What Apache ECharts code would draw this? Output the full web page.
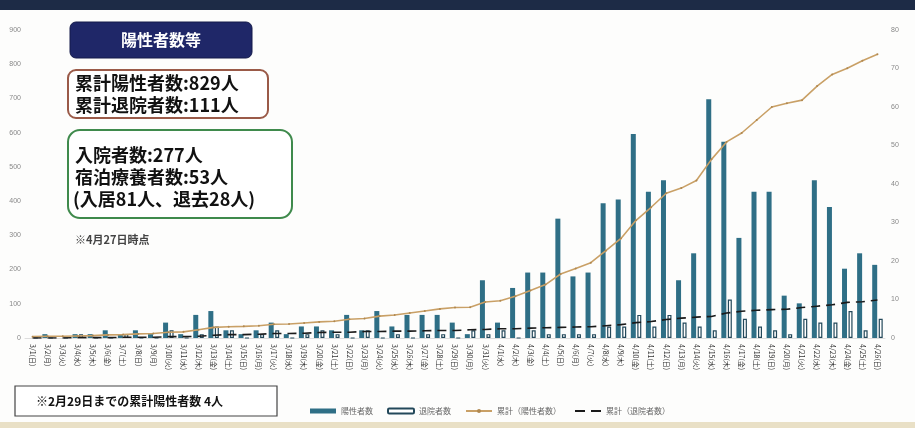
<!DOCTYPE html>
<html><head><meta charset="utf-8">
<script src="https://cdn.jsdelivr.net/npm/echarts@6/dist/echarts.min.js"></script>
<style>html,body{margin:0;padding:0;background:#fff}#c{width:915px;height:428px}</style>
</head><body><div id="c"></div>
<script>
const categories = ["3/1(日)","3/2(月)","3/3(火)","3/4(水)","3/5(木)","3/6(金)","3/7(土)","3/8(日)","3/9(月)","3/10(火)","3/11(水)","3/12(木)","3/13(金)","3/14(土)","3/15(日)","3/16(月)","3/17(火)","3/18(水)","3/19(木)","3/20(金)","3/21(土)","3/22(日)","3/23(月)","3/24(火)","3/25(水)","3/26(木)","3/27(金)","3/28(土)","3/29(日)","3/30(月)","3/31(火)","4/1(水)","4/2(木)","4/3(金)","4/4(土)","4/5(日)","4/6(月)","4/7(火)","4/8(水)","4/9(木)","4/10(金)","4/11(土)","4/12(日)","4/13(月)","4/14(火)","4/15(水)","4/16(木)","4/17(金)","4/18(土)","4/19(日)","4/20(月)","4/21(火)","4/22(水)","4/23(木)","4/24(金)","4/25(土)","4/26(日)"];
const positives = [0,1,0,1,1,2,1,2,1,4,1,6,7,2,1,2,4,1,3,3,2,6,2,7,3,6,6,6,4,1,15,4,13,17,17,31,16,17,35,36,53,38,41,15,22,62,51,26,38,38,11,9,41,34,18,22,19];
const discharged = [0,0,0,1,0,0,1,0,0,2,0,1,3,2,0,1,2,0,1,2,1,0,2,0,1,0,1,1,0,2,1,2,0,2,1,1,1,1,3,3,6,3,6,4,3,2,10,5,3,2,1,5,4,4,7,2,5];
const cumPositives = [4,5,5,6,7,9,10,12,13,17,18,24,31,33,34,36,40,41,44,47,49,55,57,64,67,73,79,85,89,90,105,109,122,139,156,187,203,220,255,291,344,382,423,438,460,522,573,599,637,675,686,695,736,770,788,810,829];
const cumDischarged = [0,0,0,1,1,1,2,2,2,4,4,5,8,10,10,11,13,13,14,16,17,17,19,19,20,20,21,22,22,24,25,27,27,29,30,31,32,33,36,39,45,48,54,58,61,63,73,78,81,83,84,89,93,97,104,106,111];
const seriesNames = ["陽性者数","退院者数","累計（陽性者数）","累計（退院者数）"];

const JP = '"Noto Sans CJK JP", sans-serif';
const chart = echarts.init(document.getElementById('c'));
chart.setOption({
  backgroundColor:'#fdfdfc',
  animation:false,
  grid:{left:25,right:30,top:30,bottom:90},
  legend:{
    left:305, bottom:8, itemWidth:26, itemHeight:5, itemGap:14,
    textStyle:{fontSize:8,color:'#666',fontFamily:JP},
    data:[
      {name:seriesNames[0], icon:'rect'},
      {name:seriesNames[1], icon:'roundRect'},
      {name:seriesNames[2]},
      {name:seriesNames[3], icon:'path://M0,0 L10,0 L10,2 L0,2 Z M16,0 L26,0 L26,2 L16,2 Z'}
    ]
  },
  xAxis:{
    type:'category', data:categories, boundaryGap:true,
    axisLine:{show:true,lineStyle:{color:'#ddd'}},
    axisTick:{show:false},
    axisLabel:{interval:0, rotate:-90, fontSize:7, color:'#333', fontFamily:JP, margin:6}
  },
  yAxis:[
    {type:'value', min:0, max:900, interval:100, position:'left',
     splitLine:{show:false}, axisLine:{show:false}, axisTick:{show:false},
     axisLabel:{fontSize:7,color:'#888',margin:4}},
    {type:'value', min:0, max:80, interval:10, position:'right',
     splitLine:{show:false}, axisLine:{show:false}, axisTick:{show:false},
     axisLabel:{fontSize:7,color:'#888',margin:6}}
  ],
  series:[
    {name:seriesNames[0], type:'bar', yAxisIndex:1, data:positives, barWidth:5, barGap:'30%',
     itemStyle:{color:'#2f6f86'}},
    {name:seriesNames[1], type:'bar', yAxisIndex:1, data:discharged, barWidth:4,
     itemStyle:{color:'#ffffff', borderColor:'#23485a', borderWidth:1.2}},
    {name:seriesNames[2], type:'line', yAxisIndex:0, data:cumPositives,
     symbol:'circle', symbolSize:2, showSymbol:true,
     lineStyle:{color:'#c9a066', width:1.6}, itemStyle:{color:'#b08850'}},
    {name:seriesNames[3], type:'line', yAxisIndex:0, data:cumDischarged,
     symbol:'none',
     lineStyle:{color:'#1a1a1a', width:1.6, type:[9,6]}, itemStyle:{color:'#1a1a1a'}}
  ],
  graphic:[
    {type:'rect', shape:{x:0,y:0,width:915,height:10}, style:{fill:'#1d2b46'}},
    {type:'rect', shape:{x:0,y:422,width:915,height:6}, style:{fill:'#e9e0c6'}},
    {type:'rect', shape:{x:70,y:22,width:182,height:36,r:6}, style:{fill:'#1f2768', stroke:'#141a4a', lineWidth:1}},
    {type:'text', x:161, y:40, style:{text:'陽性者数等', fill:'#fff', font:'bold 16px '+JP, textAlign:'center', textVerticalAlign:'middle'}},
    {type:'rect', shape:{x:68,y:70,width:200,height:48,r:8}, style:{fill:'#fff', stroke:'#9a5a48', lineWidth:2}},
    {type:'text', x:75, y:83, style:{text:'累計陽性者数:829人', fill:'#111', font:'bold 18px '+JP, textVerticalAlign:'middle'}},
    {type:'text', x:75, y:105, style:{text:'累計退院者数:111人', fill:'#111', font:'bold 18px '+JP, textVerticalAlign:'middle'}},
    {type:'rect', shape:{x:68,y:130,width:224,height:88,r:12}, style:{fill:'#fff', stroke:'#3f8a4c', lineWidth:2}},
    {type:'text', x:75, y:155, style:{text:'入院者数:277人', fill:'#111', font:'bold 18px '+JP, textVerticalAlign:'middle'}},
    {type:'text', x:75, y:177, style:{text:'宿泊療養者数:53人', fill:'#111', font:'bold 18px '+JP, textVerticalAlign:'middle'}},
    {type:'text', x:73, y:199, style:{text:'(入居81人、退去28人)', fill:'#111', font:'bold 18px '+JP, textVerticalAlign:'middle'}},
    {type:'text', x:75, y:240, style:{text:'※4月27日時点', fill:'#444', font:'bold 11px '+JP, textVerticalAlign:'middle'}},
    {type:'rect', shape:{x:15,y:386,width:262,height:30}, style:{fill:'#fff', stroke:'#444', lineWidth:1.2}},
    {type:'text', x:36, y:401, style:{text:'※2月29日までの累計陽性者数 4人', fill:'#111', font:'bold 12px '+JP, textVerticalAlign:'middle'}}
  ]
});
</script></body></html>
